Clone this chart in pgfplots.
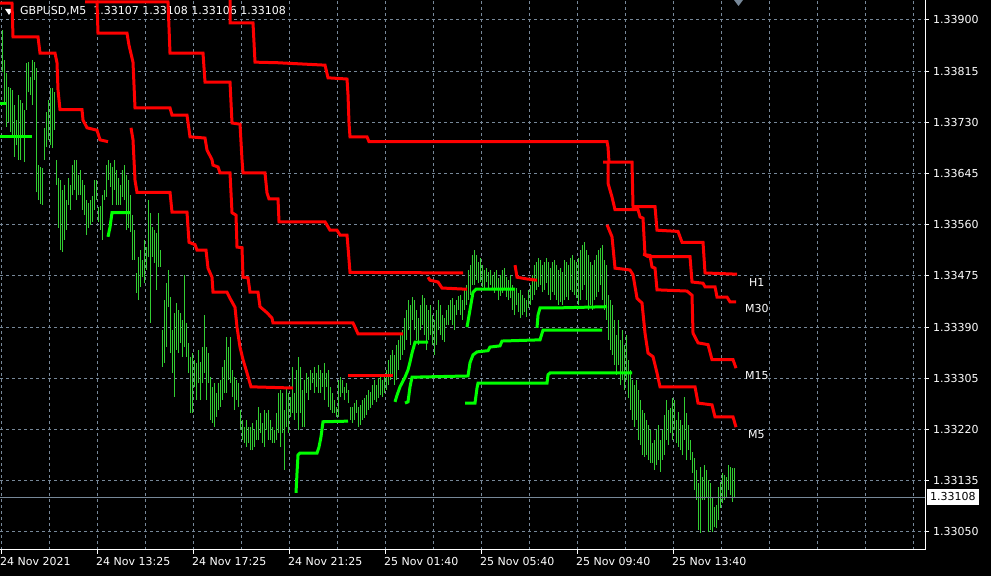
\documentclass[border=0pt]{standalone}
\usepackage{fontspec}
\setmainfont{DejaVu Sans}
\usepackage{pgfplots}
\usepackage{pgfplotstable}
\pgfplotsset{compat=1.18}
\definecolor{lsg}{RGB}{119,136,153}
\definecolor{barcol}{RGB}{50,205,50}
\definecolor{mtred}{RGB}{255,0,0}
\definecolor{mtgreen}{RGB}{0,255,0}
\pgfplotstableread{
x h l
2 1.33883 1.33814
4 1.33834 1.33759
6 1.33812 1.33722
8 1.33789 1.33731
10 1.33787 1.33714
12 1.33784 1.33709
14 1.33759 1.33673
16 1.33734 1.33692
18 1.33775 1.33668
20 1.33767 1.33668
22 1.33762 1.33704
24 1.33751 1.33664
26 1.33829 1.33751
28 1.33830 1.33780
30 1.33805 1.33776
32 1.33834 1.33759
34 1.33830 1.33800
36 1.33820 1.33614
38 1.33659 1.33601
40 1.33656 1.33595
42 1.33654 1.33593
44 1.33721 1.33668
46 1.33747 1.33689
48 1.33767 1.33701
50 1.33787 1.33692
52 1.33787 1.33687
54 1.33780 1.33717
56 1.33668 1.33626
58 1.33638 1.33555
60 1.33634 1.33518
62 1.33618 1.33515
64 1.33626 1.33535
66 1.33601 1.33551
68 1.33638 1.33593
70 1.33626 1.33585
72 1.33659 1.33609
74 1.33668 1.33618
76 1.33668 1.33601
78 1.33643 1.33609
80 1.33651 1.33609
82 1.33634 1.33585
84 1.33626 1.33576
86 1.33601 1.33543
88 1.33596 1.33555
90 1.33601 1.33560
92 1.33608 1.33565
94 1.33634 1.33585
96 1.33634 1.33601
98 1.33590 1.33565
100 1.33591 1.33551
102 1.33609 1.33535
104 1.33618 1.33601
106 1.33659 1.33606
108 1.33668 1.33634
110 1.33663 1.33623
112 1.33656 1.33593
114 1.33668 1.33618
116 1.33651 1.33593
118 1.33638 1.33593
120 1.33626 1.33593
122 1.33651 1.33606
124 1.33659 1.33601
126 1.33643 1.33551
128 1.33634 1.33555
130 1.33609 1.33548
132 1.33576 1.33502
134 1.33551 1.33502
136 1.33480 1.33447
138 1.33507 1.33435
140 1.33518 1.33457
142 1.33502 1.33473
144 1.33535 1.33463
146 1.33523 1.33485
148 1.33601 1.33507
150 1.33580 1.33397
152 1.33556 1.33507
154 1.33551 1.33497
156 1.33546 1.33452
158 1.33580 1.33490
160 1.33518 1.33490
162 1.33385 1.33324
164 1.33435 1.33331
166 1.33463 1.33357
168 1.33485 1.33424
170 1.33440 1.33347
172 1.33385 1.33314
174 1.33414 1.33274
176 1.33430 1.33352
178 1.33419 1.33347
180 1.33414 1.33364
182 1.33402 1.33341
184 1.33477 1.33357
186 1.33397 1.33341
188 1.33364 1.33314
190 1.33341 1.33248
192 1.33347 1.33248
194 1.33336 1.33291
196 1.33331 1.33269
198 1.33352 1.33297
200 1.33332 1.33269
202 1.33357 1.33297
204 1.33410 1.33314
206 1.33357 1.33269
208 1.33347 1.33297
210 1.33307 1.33236
212 1.33291 1.33231
214 1.33297 1.33224
216 1.33281 1.33241
218 1.33297 1.33253
220 1.33302 1.33258
222 1.33324 1.33269
224 1.33336 1.33281
226 1.33374 1.33281
228 1.33357 1.33302
230 1.33374 1.33297
232 1.33319 1.33274
234 1.33307 1.33253
236 1.33302 1.33269
238 1.33297 1.33258
240 1.33253 1.33219
242 1.33236 1.33203
244 1.33224 1.33198
246 1.33236 1.33191
248 1.33224 1.33198
250 1.33224 1.33186
252 1.33231 1.33186
254 1.33219 1.33191
256 1.33236 1.33203
258 1.33258 1.33203
260 1.33248 1.33214
262 1.33231 1.33198
264 1.33253 1.33191
266 1.33248 1.33219
268 1.33253 1.33203
270 1.33236 1.33203
272 1.33224 1.33198
274 1.33219 1.33198
276 1.33248 1.33203
278 1.33281 1.33214
280 1.33286 1.33191
282 1.33281 1.33214
284 1.33253 1.33153
286 1.33291 1.33224
288 1.33281 1.33214
290 1.33274 1.33241
292 1.33324 1.33248
294 1.33281 1.33236
296 1.33319 1.33248
298 1.33341 1.33219
300 1.33324 1.33248
302 1.33286 1.33224
304 1.33302 1.33224
306 1.33314 1.33281
308 1.33307 1.33269
310 1.33319 1.33286
312 1.33314 1.33297
314 1.33324 1.33281
316 1.33314 1.33291
318 1.33327 1.33281
320 1.33319 1.33281
322 1.33314 1.33291
324 1.33331 1.33269
326 1.33314 1.33291
328 1.33319 1.33258
330 1.33291 1.33253
332 1.33281 1.33248
334 1.33269 1.33248
336 1.33258 1.33241
338 1.33302 1.33241
340 1.33307 1.33274
342 1.33302 1.33281
344 1.33291 1.33269
346 1.33297 1.33281
348 1.33286 1.33264
350 1.33258 1.33236
352 1.33258 1.33231
354 1.33264 1.33236
356 1.33269 1.33248
358 1.33258 1.33224
360 1.33261 1.33228
362 1.33269 1.33236
364 1.33272 1.33239
366 1.33278 1.33244
368 1.33286 1.33253
370 1.33283 1.33256
372 1.33294 1.33261
374 1.33302 1.33269
376 1.33294 1.33266
378 1.33306 1.33272
380 1.33311 1.33277
382 1.33302 1.33274
384 1.33307 1.33281
386 1.33319 1.33286
388 1.33336 1.33294
390 1.33344 1.33302
392 1.33352 1.33311
394 1.33344 1.33294
396 1.33361 1.33302
398 1.33369 1.33319
400 1.33377 1.33336
402 1.33385 1.33344
404 1.33405 1.33352
406 1.33419 1.33369
408 1.33435 1.33385
410 1.33427 1.33361
412 1.33440 1.33402
414 1.33435 1.33385
416 1.33419 1.33369
418 1.33405 1.33361
420 1.33427 1.33385
422 1.33444 1.33394
424 1.33438 1.33377
426 1.33427 1.33352
428 1.33419 1.33369
430 1.33427 1.33377
432 1.33410 1.33361
434 1.33402 1.33344
436 1.33419 1.33361
438 1.33435 1.33385
440 1.33427 1.33377
442 1.33410 1.33369
444 1.33405 1.33365
446 1.33419 1.33394
448 1.33427 1.33394
450 1.33435 1.33402
452 1.33438 1.33394
454 1.33427 1.33385
456 1.33435 1.33410
458 1.33442 1.33419
460 1.33444 1.33410
462 1.33435 1.33402
464 1.33452 1.33419
466 1.33460 1.33427
468 1.33485 1.33435
470 1.33493 1.33444
472 1.33510 1.33460
474 1.33518 1.33460
476 1.33510 1.33468
478 1.33498 1.33463
480 1.33505 1.33465
482 1.33493 1.33457
484 1.33485 1.33452
486 1.33488 1.33465
488 1.33482 1.33452
490 1.33485 1.33460
492 1.33477 1.33452
494 1.33482 1.33447
496 1.33485 1.33455
498 1.33472 1.33435
500 1.33477 1.33442
502 1.33485 1.33447
504 1.33488 1.33452
506 1.33473 1.33440
508 1.33468 1.33435
510 1.33477 1.33438
512 1.33460 1.33419
514 1.33452 1.33410
516 1.33455 1.33427
518 1.33447 1.33415
520 1.33452 1.33405
522 1.33444 1.33410
524 1.33438 1.33415
526 1.33435 1.33407
528 1.33452 1.33422
530 1.33460 1.33427
532 1.33477 1.33435
534 1.33493 1.33444
536 1.33498 1.33452
538 1.33505 1.33457
540 1.33502 1.33460
542 1.33493 1.33448
544 1.33498 1.33452
546 1.33505 1.33463
548 1.33498 1.33444
550 1.33488 1.33435
552 1.33498 1.33448
554 1.33502 1.33444
556 1.33493 1.33435
558 1.33485 1.33427
560 1.33488 1.33432
562 1.33482 1.33427
564 1.33502 1.33435
566 1.33498 1.33440
568 1.33493 1.33435
570 1.33505 1.33452
572 1.33510 1.33448
574 1.33502 1.33444
576 1.33498 1.33438
578 1.33505 1.33427
580 1.33518 1.33435
582 1.33527 1.33452
584 1.33531 1.33460
586 1.33518 1.33435
588 1.33510 1.33419
590 1.33498 1.33427
592 1.33493 1.33419
594 1.33502 1.33435
596 1.33510 1.33440
598 1.33518 1.33448
600 1.33522 1.33460
602 1.33527 1.33435
604 1.33502 1.33419
606 1.33493 1.33402
608 1.33444 1.33369
610 1.33435 1.33352
612 1.33427 1.33344
614 1.33402 1.33327
616 1.33377 1.33311
618 1.33402 1.33327
620 1.33369 1.33294
622 1.33385 1.33302
624 1.33361 1.33286
626 1.33377 1.33302
628 1.33336 1.33272
630 1.33319 1.33253
632 1.33302 1.33236
634 1.33294 1.33224
636 1.33302 1.33236
638 1.33286 1.33203
640 1.33269 1.33195
642 1.33253 1.33178
644 1.33248 1.33175
646 1.33236 1.33178
648 1.33228 1.33170
650 1.33219 1.33165
652 1.33198 1.33165
654 1.33203 1.33153
656 1.33219 1.33161
658 1.33228 1.33170
660 1.33203 1.33150
662 1.33219 1.33170
664 1.33244 1.33178
666 1.33269 1.33203
668 1.33253 1.33195
670 1.33256 1.33214
672 1.33272 1.33203
674 1.33269 1.33219
676 1.33236 1.33198
678 1.33249 1.33191
680 1.33236 1.33186
682 1.33228 1.33178
684 1.33274 1.33203
686 1.33248 1.33170
688 1.33228 1.33186
690 1.33203 1.33170
692 1.33183 1.33148
694 1.33173 1.33120
696 1.33153 1.33103
698 1.33131 1.33053
700 1.33158 1.33048
702 1.33141 1.33103
704 1.33161 1.33103
706 1.33153 1.33108
708 1.33136 1.33050
710 1.33131 1.33053
712 1.33108 1.33050
714 1.33091 1.33058
716 1.33095 1.33056
718 1.33125 1.33070
720 1.33133 1.33090
722 1.33148 1.33098
724 1.33145 1.33103
726 1.33141 1.33108
728 1.33161 1.33120
730 1.33158 1.33111
732 1.33156 1.33100
734 1.33156 1.33106
}\bars
\begin{document}
\begin{tikzpicture}[x=1bp,y=1bp]
\useasboundingbox (0,0) rectangle (991,576);
\fill[black] (0,0) rectangle (991,576);
\fill[white] (5,567) -- (13,567) -- (9,561) -- cycle;
\node[anchor=base west, white, inner sep=0pt, font=\fontsize{11bp}{13bp}\selectfont] at (20,561) {GBPUSD,M5\ \ 1.33107 1.33108 1.33106 1.33108};
\begin{axis}[
  at={(0bp,26bp)}, anchor=south west,
  width=925bp, height=550bp, scale only axis,
  xmin=0, xmax=925, ymin=1.330201, ymax=1.339332,
  axis x line*=bottom, axis y line*=right,
  axis line style={white, line width=1bp, -},
  xtick={1,97,193,289,385,481,577,673},
  xticklabels={24 Nov 2021,24 Nov 13:25,24 Nov 17:25,24 Nov 21:25,25 Nov 01:40,25 Nov 05:40,25 Nov 09:40,25 Nov 13:40},
  minor xtick={49,145,241,337,433,529,625,721,769,817,865,913},
  ytick={1.339,1.33815,1.3373,1.33645,1.3356,1.33475,1.3339,1.33305,1.3322,1.33135,1.3305},
  yticklabels={1.33900,1.33815,1.33730,1.33645,1.33560,1.33475,1.33390,1.33305,1.33220,1.33135,1.33050},
  grid=both,
  major grid style={lsg, line width=1bp, dash pattern=on 3bp off 3bp},
  minor grid style={lsg, line width=1bp, dash pattern=on 3bp off 3bp},
  tick align=outside, major tick length=4bp, minor tick length=0pt,
  every tick/.style={white, line width=1bp},
  tick label style={white, font=\fontsize{11bp}{13bp}\selectfont},
  xticklabel style={anchor=north west, inner sep=0pt, xshift=-1bp, yshift=-3bp},
  yticklabel style={anchor=west, inner sep=0pt, xshift=4bp},
  /pgf/number format/assume math mode=true,
  clip=true,
]
\addplot[draw=none, mark=none, forget plot,
  error bars/.cd, y dir=plus, y explicit, error mark=none,
  error bar style={draw=barcol, line width=1bp, solid}]
  table[x=x, y=l, y error expr=\thisrow{h}-\thisrow{l}] {\bars};
\addplot[lsg, line width=1bp] coordinates {(0,1.33108) (925,1.33108)};
% red resistance lines
\addplot[mtred, line width=3bp] coordinates {(0,1.33928) (12,1.33928) (13,1.33872) (38,1.33872) (40,1.33845) (55,1.33845) (57,1.33829) (58,1.33784) (60,1.33751) (82,1.33751) (83,1.33734) (87,1.33721) (97,1.33717) (100,1.33701) (108,1.33698)};
\addplot[mtred, line width=3bp] coordinates {(131,1.33721) (133,1.33701) (135,1.33634) (137,1.33614) (170,1.33614) (172,1.33581) (187,1.33581) (189,1.33531) (195,1.33527) (197,1.33518) (206,1.33518) (208,1.33488) (212,1.33473) (213,1.33448) (227,1.33448) (230,1.33438) (235,1.33423) (237,1.33390) (240,1.33357) (243,1.33336) (247,1.33314) (251,1.33291) (293,1.33289)};
\addplot[mtred, line width=3bp] coordinates {(85,1.33930) (97,1.33930) (98,1.33878) (127,1.33878) (129,1.33858) (133,1.33830) (135,1.33754) (170,1.33754) (172,1.33742) (187,1.33742) (190,1.33706) (205,1.33704) (207,1.33684) (212,1.33668) (213,1.33659) (218,1.33656) (220,1.33646) (230,1.33646) (232,1.33580) (236,1.33576) (237,1.33523) (242,1.33522) (243,1.33473) (248,1.33472) (250,1.33448) (258,1.33448) (260,1.33424) (267,1.33414) (272,1.33405) (273,1.33397) (353,1.33397) (355,1.33390) (358,1.33379) (403,1.33379)};
\addplot[mtred, line width=3bp] coordinates {(97,1.33930) (168,1.33930) (170,1.33845) (203,1.33845) (205,1.33797) (230,1.33797) (232,1.33729) (240,1.33727) (242,1.33668) (243,1.33646) (265,1.33646) (267,1.33613) (269,1.33603) (278,1.33603) (279,1.33565) (325,1.33565) (330,1.33551) (337,1.33551) (340,1.33543) (347,1.33543) (348,1.33523) (350,1.33481) (463,1.33480)};
\addplot[mtred, line width=3bp] coordinates {(230,1.33945) (230,1.33895) (253,1.33895) (255,1.33830) (278,1.33829) (325,1.33825) (328,1.33804) (347,1.33802) (348,1.33776) (349,1.33729) (350,1.33706) (367,1.33706) (369,1.33698) (607,1.33698) (608,1.33689) (609,1.33664) (632,1.33664) (633,1.33590) (655,1.33590) (657,1.33551) (678,1.33549) (682,1.33531) (703,1.33531) (705,1.33480) (737,1.33478)};
\addplot[mtred, line width=3bp] coordinates {(603,1.33664) (608,1.33664) (608,1.33629) (612,1.33606) (615,1.33585) (638,1.33585) (640,1.33573) (643,1.33571) (645,1.33510) (648,1.33507) (690,1.33507) (692,1.33465) (703,1.33463) (705,1.33457) (715,1.33457) (717,1.33440) (727,1.33440) (730,1.33432) (736,1.33432)};
\addplot[mtred, line width=3bp] coordinates {(643,1.33511) (650,1.33509) (652,1.33490) (655,1.33488) (657,1.33452) (687,1.33450) (692,1.33443) (693,1.33380) (698,1.33364) (708,1.33361) (712,1.33336) (733,1.33336) (736,1.33322)};
\addplot[mtred, line width=3bp] coordinates {(607,1.33560) (612,1.33540) (615,1.33488) (630,1.33485) (633,1.33477) (637,1.33438) (642,1.33430) (645,1.33380) (648,1.33347) (653,1.33341) (657,1.33314) (660,1.33291) (695,1.33291) (698,1.33264) (712,1.33261) (715,1.33241) (733,1.33241) (736,1.33224)};
\addplot[mtred, line width=3bp] coordinates {(428,1.33473) (430,1.33468) (438,1.33465) (442,1.33455) (467,1.33453)};
\addplot[mtred, line width=3bp] coordinates {(515,1.33493) (517,1.33473) (527,1.33470) (537,1.33468)};
\addplot[mtred, line width=3bp] coordinates {(348,1.33309) (393,1.33309)};
% green support lines
\addplot[mtgreen, line width=3bp] coordinates {(0,1.33761) (6,1.33761)};
\addplot[mtgreen, line width=3bp] coordinates {(0,1.33706) (32,1.33706)};
\addplot[mtgreen, line width=3bp] coordinates {(108,1.33540) (110,1.33556) (112,1.33580) (130,1.33580)};
\addplot[mtgreen, line width=3bp] coordinates {(296,1.33115) (297,1.33148) (298,1.33178) (300,1.33181) (317,1.33181) (319,1.33191) (321,1.33208) (323,1.33233) (348,1.33234)};
\addplot[mtgreen, line width=3bp] coordinates {(395,1.33266) (397,1.33277) (400,1.33291) (405,1.33307) (408,1.33319) (410,1.33332) (412,1.33347) (415,1.33365) (428,1.33365)};
\addplot[mtgreen, line width=3bp] coordinates {(405,1.33264) (408,1.33266) (410,1.33291) (412,1.33307) (468,1.33309) (470,1.33331) (473,1.33344) (477,1.33349) (488,1.33351) (490,1.33357) (500,1.33359) (502,1.33367) (540,1.33369) (543,1.33385) (602,1.33385)};
\addplot[mtgreen, line width=3bp] coordinates {(467,1.33390) (470,1.33419) (473,1.33448) (476,1.33453) (515,1.33453)};
\addplot[mtgreen, line width=3bp] coordinates {(537,1.33389) (538,1.33410) (540,1.33422) (557,1.33422) (607,1.33424)};
\addplot[mtgreen, line width=3bp] coordinates {(465,1.33264) (475,1.33264) (477,1.33289) (478,1.33297) (547,1.33297) (548,1.33311) (550,1.33314) (632,1.33314)};
\end{axis}
\fill[lsg] (734,576) -- (743,576) -- (738.5,570) -- cycle;
\begin{scope}[every node/.style={anchor=west, white, inner sep=0pt, font=\fontsize{11bp}{13bp}\selectfont}]
\node at (749,294) {H1};
\node at (745,267) {M30};
\node at (745,200) {M15};
\node at (748,141) {M5};
\end{scope}
\node[anchor=west, fill=white, text=black, inner xsep=3bp, inner ysep=0pt, minimum height=16bp, font=\fontsize{11bp}{13bp}\selectfont] at (927,79) {1.33108};
\end{tikzpicture}
\end{document}
